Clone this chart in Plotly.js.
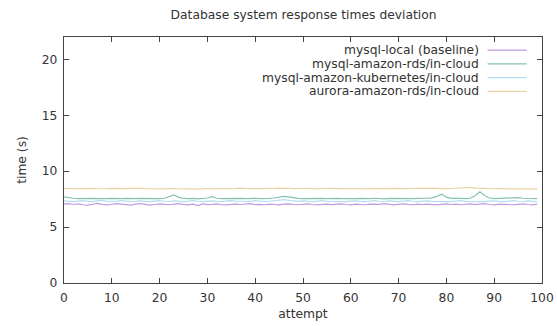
<!DOCTYPE html>
<html>
<head>
<meta charset="utf-8">
<script src="https://cdn.plot.ly/plotly-3.0.1.min.js"></script>
<style>html,body{margin:0;padding:0;background:#fff;}#chart{width:557px;height:326px;}</style>
</head>
<body>
<div id="chart"></div>
<script>
const seriesNames = [
  "mysql-local (baseline)",
  "mysql-amazon-rds/in-cloud",
  "mysql-amazon-kubernetes/in-cloud",
  "aurora-amazon-rds/in-cloud"
];
const seriesColors = ["#c39be6", "#86c2b0", "#b3def2", "#ecd2a2"];

const mysqlLocal = [
  7.05,7.10,7.02,7.08,7.00,6.96,7.04,7.12,7.03,6.98,
  7.04,7.10,7.06,7.01,6.97,7.05,7.09,7.03,6.96,7.02,
  7.08,7.04,7.00,7.06,7.10,7.03,6.99,7.05,6.92,7.07,
  7.01,7.04,7.08,7.00,6.98,7.03,7.06,7.02,7.05,7.09,
  7.01,7.04,7.00,7.06,7.02,6.99,7.05,7.08,7.03,7.00,
  7.04,7.07,7.02,6.98,7.03,7.06,7.01,7.04,7.08,7.02,
  6.99,7.05,7.03,7.00,7.06,7.02,7.04,7.09,7.01,6.98,
  7.04,7.07,7.03,7.00,7.05,7.02,7.06,7.01,6.99,7.04,
  7.08,7.02,7.05,7.00,7.03,7.07,7.01,7.04,7.10,7.02,
  6.98,7.05,7.03,7.06,7.00,7.04,7.08,7.02,6.99,7.05
];
const mysqlRds = [
  7.70,7.62,7.58,7.55,7.57,7.53,7.56,7.54,7.52,7.55,
  7.57,7.53,7.55,7.56,7.52,7.54,7.57,7.55,7.53,7.56,
  7.54,7.58,7.70,7.88,7.66,7.56,7.54,7.57,7.53,7.55,
  7.60,7.72,7.58,7.54,7.56,7.53,7.55,7.57,7.54,7.52,
  7.56,7.55,7.53,7.57,7.60,7.65,7.75,7.70,7.62,7.57,
  7.54,7.56,7.53,7.55,7.57,7.54,7.52,7.56,7.55,7.53,
  7.57,7.54,7.56,7.53,7.55,7.58,7.54,7.52,7.56,7.55,
  7.53,7.57,7.55,7.54,7.56,7.55,7.58,7.62,7.75,7.95,
  7.68,7.57,7.54,7.56,7.55,7.58,7.80,8.15,7.82,7.60,
  7.55,7.57,7.54,7.56,7.60,7.64,7.58,7.55,7.53,7.55
];
const mysqlK8s = [
  7.35,7.30,7.28,7.33,7.36,7.31,7.27,7.34,7.38,7.30,
  7.29,7.33,7.37,7.32,7.28,7.31,7.35,7.30,7.27,7.33,
  7.36,7.31,7.29,7.34,7.30,7.28,7.32,7.36,7.31,7.27,
  7.33,7.35,7.30,7.28,7.34,7.37,7.31,7.29,7.33,7.30,
  7.36,7.32,7.28,7.31,7.35,7.38,7.45,7.40,7.33,7.30,
  7.34,7.31,7.28,7.33,7.36,7.30,7.29,7.34,7.31,7.27,
  7.32,7.35,7.30,7.28,7.33,7.36,7.31,7.29,7.34,7.30,
  7.27,7.32,7.36,7.31,7.28,7.33,7.35,7.30,7.29,7.34,
  7.31,7.28,7.33,7.36,7.30,7.29,7.34,7.31,7.27,7.32,
  7.35,7.30,7.28,7.33,7.36,7.31,7.29,7.34,7.30,7.28
];
const auroraRds = [
  8.45,8.47,8.44,8.42,8.45,8.48,8.46,8.43,8.41,8.44,
  8.47,8.45,8.42,8.44,8.46,8.49,8.47,8.44,8.42,8.45,
  8.43,8.41,8.44,8.46,8.43,8.41,8.44,8.42,8.40,8.43,
  8.45,8.42,8.44,8.47,8.45,8.43,8.46,8.48,8.45,8.43,
  8.41,8.44,8.46,8.43,8.45,8.48,8.50,8.47,8.44,8.42,
  8.45,8.47,8.44,8.42,8.45,8.48,8.46,8.44,8.47,8.45,
  8.43,8.46,8.44,8.42,8.45,8.47,8.44,8.46,8.43,8.45,
  8.47,8.44,8.42,8.45,8.47,8.44,8.46,8.49,8.46,8.44,
  8.42,8.45,8.47,8.50,8.52,8.55,8.48,8.44,8.46,8.43,
  8.45,8.47,8.44,8.42,8.45,8.43,8.41,8.44,8.42,8.40
];
const allSeries = [mysqlLocal, mysqlRds, mysqlK8s, auroraRds];
const attempts = mysqlLocal.map((_, i) => i);

const xTicks = [0,10,20,30,40,50,60,70,80,90,100];
const yTicks = [0,5,10,15,20];

const traces = allSeries.map((ys, k) => ({
  x: attempts, y: ys, type: "scatter", mode: "lines",
  name: seriesNames[k], line: {color: seriesColors[k], width: 1.2},
  showlegend: false, hoverinfo: "skip"
}));

const font = {family: "DejaVu Sans, sans-serif", size: 12.3, color: "#333"};
const axisCommon = {
  showline: true, linecolor: "#444", linewidth: 1.2, mirror: "allticks",
  ticks: "inside", ticklen: 5, tickcolor: "#444", tickwidth: 1,
  showgrid: false, zeroline: false, tickfont: font
};

const annotations = [];
const shapes = [];
const rowY = [0.947, 0.891, 0.835, 0.779];
seriesNames.forEach((nm, k) => {
  annotations.push({
    xref: "paper", yref: "paper", x: 0.872, y: rowY[k], xanchor: "right", yanchor: "middle",
    text: nm, showarrow: false, font: font
  });
  shapes.push({
    type: "line", xref: "paper", yref: "paper", x0: 0.886, x1: 0.968, y0: rowY[k], y1: rowY[k],
    line: {color: seriesColors[k], width: 1.2}
  });
});

const layout = {
  width: 557, height: 326,
  margin: {l: 64, r: 15, t: 37, b: 43},
  paper_bgcolor: "#fff", plot_bgcolor: "#fff",
  font: font,
  title: {text: "Database system response times deviation", font: font, x: 0.545, xanchor: "center", y: 0.955, yanchor: "middle"},
  xaxis: Object.assign({}, axisCommon, {
    range: [0, 100], tickvals: xTicks, ticktext: xTicks.map(String),
    ticklabelstandoff: 3,
    title: {text: "attempt", font: font, standoff: 5}
  }),
  yaxis: Object.assign({}, axisCommon, {
    range: [0, 22], tickvals: yTicks, ticktext: yTicks.map(String),
    ticklabelstandoff: 3,
    title: {text: "time (s)", font: font, standoff: 12}
  }),
  annotations: annotations,
  shapes: shapes,
  showlegend: false
};

Plotly.newPlot("chart", traces, layout, {displayModeBar: false, staticPlot: true});
</script>
</body>
</html>
